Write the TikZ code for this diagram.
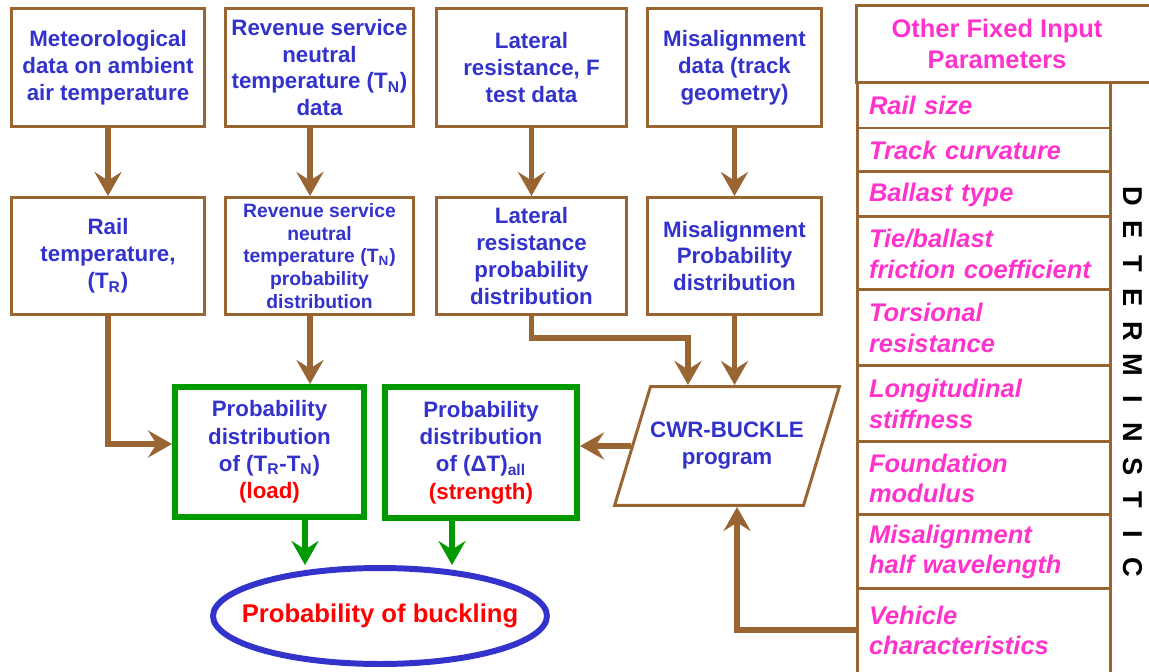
\documentclass[tikz,border=0pt]{standalone}
\usepackage{fontspec}
\setmainfont{Liberation Sans}
\usetikzlibrary{arrows.meta,shapes.geometric,positioning}
\definecolor{txtblue}{RGB}{51,51,204}
\definecolor{txtpink}{RGB}{255,51,204}
\definecolor{txtred}{RGB}{255,0,0}
\definecolor{brn}{RGB}{153,102,51}
\definecolor{grn}{RGB}{0,153,0}
\tikzset{
  inbox/.style={draw=brn, line width=1.7pt, align=center, text=txtblue, inner sep=0pt,
    font=\bfseries\fontsize{12.7}{15.3}\selectfont},
  outbox/.style={draw=grn, line width=3.4pt, align=center, text=txtblue, inner sep=0pt,
    font=\bfseries\fontsize{12.7}{15.5}\selectfont},
  param/.style={draw=brn, line width=1.7pt, outer sep=0pt, text width=4.6cm, inner xsep=0.24cm,
    inner ysep=0pt, align=left, minimum width=5.08cm, text=txtpink,
    font=\bfseries\itshape\fontsize{14.5}{17.6}\selectfont},
  barrow/.style={brn, line width=3.4pt, -{Stealth[length=4.8mm,width=5.4mm,inset=1.7mm]}},
  garrow/.style={grn, line width=3.4pt, -{Stealth[length=4.8mm,width=5.4mm,inset=1.7mm]}},
}
\begin{document}
\begin{tikzpicture}[x=0.02cm,y=-0.02cm]
\useasboundingbox (0,0) rectangle (1149,672);
\clip (0,0) rectangle (1149,672);
% input data
\node[inbox, minimum width=3.86cm, minimum height=2.36cm] (met) at (108,67.5) {Meteorological\\data on ambient\\air temperature};
\node[inbox, minimum width=3.76cm, minimum height=2.36cm] (revdata) at (319.5,67.5) {Revenue service\\neutral\\temperature (T\textsubscript{N})\\data};
\node[inbox, minimum width=3.8cm, minimum height=2.36cm] (latdata) at (531.5,67.5) {Lateral\\resistance, F\\test data};
\node[inbox, minimum width=3.48cm, minimum height=2.36cm] (misdata) at (734.5,67.5) {Misalignment\\data (track\\geometry)};
% distributions
\node[inbox, minimum width=3.86cm, minimum height=2.34cm] (railT) at (108,256) {Rail\\temperature,\\(T\textsubscript{R})};
\node[inbox, minimum width=3.76cm, minimum height=2.34cm, font=\bfseries\fontsize{11}{13}\selectfont] (revdist) at (319.5,256) {Revenue service\\neutral\\temperature (T\textsubscript{N})\\probability\\distribution};
\node[inbox, minimum width=3.8cm, minimum height=2.34cm] (latdist) at (531.5,256) {Lateral\\resistance\\probability\\distribution};
\node[inbox, minimum width=3.48cm, minimum height=2.34cm] (misdist) at (734.5,256) {Misalignment\\Probability\\distribution};
% load and strength
\node[outbox, minimum width=3.78cm, minimum height=2.6cm] (load) at (269.5,452) {Probability\\distribution\\of (T\textsubscript{R}-T\textsubscript{N})\\\textcolor{txtred}{(load)}};
\node[outbox, minimum width=3.84cm, minimum height=2.62cm] (strength) at (481,452.5) {Probability\\distribution\\of (ΔT)\textsubscript{all}\\\textcolor{txtred}{(strength)}};
\node[draw=brn, line width=1.7pt, trapezium, trapezium left angle=65, trapezium right angle=115,
  trapezium stretches=true, minimum width=4.52cm, minimum height=2.38cm, inner xsep=-0.6cm, inner ysep=0pt,
  align=center, text=txtblue, font=\bfseries\fontsize{12.7}{15.3}\selectfont] (cwr) at (727,446) {CWR-BUCKLE\\program};
\node[draw=txtblue, line width=3.4pt, ellipse, minimum width=6.68cm, minimum height=1.92cm, inner xsep=-0.6cm,
  inner ysep=0pt, text=txtred, font=\bfseries\fontsize{14.6}{17}\selectfont] (bkl) at (380,616) {Probability of buckling};
% fixed parameters
\node[inner sep=0pt, minimum width=5.6cm, minimum height=1.52cm, align=center, text=txtpink,
  font=\bfseries\fontsize{14.5}{17.6}\selectfont] (hdr) at (997,44) {Other Fixed Input\\Parameters};
\draw[brn, line width=1.7pt] ([xshift=1cm]hdr.north east) -| (hdr.south west) -- ([xshift=1cm]hdr.south east);
\node[param, minimum height=0.92cm] (rail) at (984,105) {Rail size};
\node[param, minimum height=0.88cm, below=0pt of rail] (curv) {Track curvature};
\node[param, minimum height=0.9cm, below=0pt of curv] (ballast) {Ballast type};
\node[param, minimum height=1.46cm, below=0pt of ballast] (fric) {Tie/ballast\\friction coefficient};
\node[param, minimum height=1.52cm, below=0pt of fric] (tors) {Torsional\\resistance};
\node[param, minimum height=1.52cm, below=0pt of tors] (longit) {Longitudinal\\stiffness};
\node[param, minimum height=1.46cm, below=0pt of longit] (found) {Foundation\\modulus};
\node[param, minimum height=1.48cm, below=0pt of found] (halfwl) {Misalignment\\half wavelength};
\node[param, draw=none, minimum height=1.66cm, below=0pt of halfwl] (veh) {Vehicle\\characteristics};
\draw[brn, line width=1.7pt] (veh.south west) |- (veh.north east) -- (veh.south east);
\foreach \ch [count=\i] in {D,E,T,E,R,M,I,N,S,T,I,C}
  \node[rotate=-90, inner sep=0pt, font=\bfseries\fontsize{15.5}{16}\selectfont] (det\i) at (1132.5,162.2+33.8*\i) {\ch};
% connectors
\draw[barrow] (met) -- (railT);
\draw[barrow] ([xshift=-0.19cm]revdata.south) -- ([xshift=-0.19cm]revdist.north);
\draw[barrow] (latdata) -- (latdist);
\draw[barrow] (misdata) -- (misdist);
\draw[barrow] (railT.south) |- ([yshift=0.16cm]load.west);
\draw[barrow] ([xshift=-0.19cm]revdist.south) -- ([xshift=-0.19cm]revdist.south |- load.north);
\draw[barrow] (latdist.south) -- ++(0,22) -| ([xshift=-0.78cm]cwr.north);
\draw[barrow] (misdist.south) -- (misdist.south |- cwr.north);
\draw[barrow] (cwr.west) -- (cwr.west -| strength.east);
\draw[barrow] (veh.west) -| ([xshift=0.2cm]cwr.south);
\draw[garrow] ([xshift=0.71cm]load.south) -- ([xshift=0.71cm]load.south |- bkl.north);
\draw[garrow] ([xshift=-0.58cm]strength.south) -- ([xshift=-0.58cm]strength.south |- bkl.north);
\end{tikzpicture}
\end{document}
